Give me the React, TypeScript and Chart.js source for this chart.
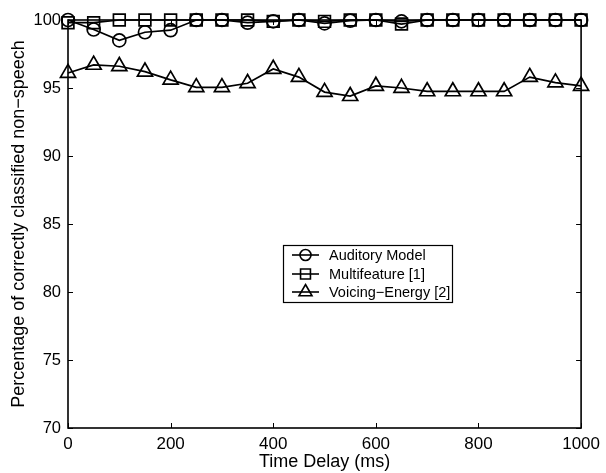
import React, { useEffect, useRef } from "react";
import { Chart, registerables } from "chart.js";

Chart.register(...registerables);

const delays = [0, 50, 100, 150, 200, 250, 300, 350, 400, 450, 500, 550, 600, 650, 700, 750, 800, 850, 900, 950, 1000];
const auditoryModel = [100, 99.3, 98.5, 99.1, 99.25, 100, 100, 99.8, 99.9, 100, 99.75, 99.95, 100, 99.9, 100, 100, 100, 100, 100, 100, 100];
const multifeature = [99.8, 99.8, 100, 100, 100, 100, 100, 100, 99.9, 100, 99.9, 100, 100, 99.7, 100, 100, 100, 100, 100, 100, 100];
const voicingEnergy = [96.1, 96.7, 96.6, 96.2, 95.6, 95.05, 95.05, 95.35, 96.4, 95.8, 94.7, 94.4, 95.15, 95.0, 94.75, 94.75, 94.75, 94.75, 95.8, 95.4, 95.15];

const seriesNames = ["Auditory Model", "Multifeature [1]", "Voicing\u2212Energy [2]"];
const xTicks = [0, 200, 400, 600, 800, 1000];
const yTicks = [70, 75, 80, 85, 90, 95, 100];

const FONT = "'Liberation Sans', Arial, Helvetica, sans-serif";

function drawMarker(ctx: CanvasRenderingContext2D, style: string, x: number, y: number, r: number) {
  ctx.beginPath();
  if (style === "circle") {
    ctx.arc(x, y, r, 0, Math.PI * 2);
  } else if (style === "rect") {
    const s = r / Math.SQRT2;
    ctx.rect(x - s, y - s, 2 * s, 2 * s);
  } else {
    let rad = 0;
    ctx.moveTo(x + Math.sin(rad) * r, y - Math.cos(rad) * r);
    rad += (2 * Math.PI) / 3;
    ctx.lineTo(x + Math.sin(rad) * r, y - Math.cos(rad) * r);
    rad += (2 * Math.PI) / 3;
    ctx.lineTo(x + Math.sin(rad) * r, y - Math.cos(rad) * r);
    ctx.closePath();
  }
  ctx.stroke();
}

const framePlugin = {
  id: "framePlugin",
  afterDatasetsDraw(chart: any) {
    const { ctx, chartArea, scales } = chart;
    const { left, right, top, bottom } = chartArea;
    ctx.save();
    ctx.strokeStyle = "#000";
    ctx.lineWidth = 1;
    const tl = 5;
    ctx.beginPath();
    for (const v of yTicks) {
      const y = Math.round(scales.y.getPixelForValue(v)) + 0.5;
      ctx.moveTo(left, y);
      ctx.lineTo(left + tl, y);
      ctx.moveTo(right, y);
      ctx.lineTo(right - tl, y);
    }
    for (const v of xTicks) {
      const x = Math.round(scales.x.getPixelForValue(v)) + 0.5;
      ctx.moveTo(x, bottom);
      ctx.lineTo(x, bottom - tl);
      ctx.moveTo(x, top);
      ctx.lineTo(x, top + tl);
    }
    ctx.stroke();
    ctx.lineWidth = 1.6;
    ctx.strokeRect(left, top, right - left, bottom - top);
    ctx.restore();
  },
  afterDraw(chart: any) {
    const { ctx } = chart;
    ctx.save();
    const bx = 283.5, by = 245.5, bw = 169, bh = 57;
    ctx.fillStyle = "#fff";
    ctx.fillRect(bx, by, bw, bh);
    ctx.strokeStyle = "#000";
    ctx.lineWidth = 1.2;
    ctx.strokeRect(bx, by, bw, bh);
    const rows = [255, 274, 292];
    const styles = ["circle", "rect", "triangle"];
    const radii = [5.5, 7, 7.5];
    ctx.font = `14.5px ${FONT}`;
    ctx.textBaseline = "middle";
    ctx.textAlign = "left";
    ctx.fillStyle = "#000";
    rows.forEach((ry, i) => {
      ctx.lineWidth = 1.6;
      ctx.beginPath();
      ctx.moveTo(292, ry);
      ctx.lineTo(319, ry);
      ctx.stroke();
      drawMarker(ctx, styles[i], 305.5, ry, radii[i]);
      ctx.fillText(seriesNames[i], 329, ry + 0.5);
    });
    ctx.restore();
  },
};

export default function App() {
  const canvasRef = useRef<HTMLCanvasElement | null>(null);

  useEffect(() => {
    document.body.style.margin = "0";
    const canvas = canvasRef.current;
    if (!canvas) return;
    const mk = (arr: number[]) => delays.map((d, i) => ({ x: d, y: arr[i] }));
    const common = {
      borderColor: "#000",
      backgroundColor: "rgba(0,0,0,0)",
      pointBackgroundColor: "rgba(0,0,0,0)",
      pointBorderColor: "#000",
      borderWidth: 1.7,
      pointBorderWidth: 1.7,
      tension: 0,
      clip: false as any,
      fill: false,
    };
    const chart = new Chart(canvas, {
      type: "line",
      data: {
        datasets: [
          { ...common, label: seriesNames[0], data: mk(auditoryModel), pointStyle: "circle", pointRadius: 6.5 },
          { ...common, label: seriesNames[1], data: mk(multifeature), pointStyle: "rect", pointRadius: 8.3 },
          { ...common, label: seriesNames[2], data: mk(voicingEnergy), pointStyle: "triangle", pointRadius: 8.7 },
        ],
      },
      options: {
        animation: false,
        responsive: false,
        maintainAspectRatio: false,
        devicePixelRatio: 1,
        layout: { padding: { top: 20, right: 22, left: 0, bottom: 0 } },
        plugins: { legend: { display: false }, tooltip: { enabled: false } },
        events: [],
        scales: {
          x: {
            type: "linear",
            min: 0,
            max: 1000,
            afterBuildTicks: (scale: any) => {
              scale.ticks = xTicks.map((v) => ({ value: v }));
            },
            afterFit: (scale: any) => {
              scale.height = 45;
            },
            ticks: {
              color: "#000",
              font: { family: FONT, size: 17 },
              padding: 6,
              maxRotation: 0,
              autoSkip: false,
              callback: (v: any) => String(v),
            },
            grid: { display: false, drawTicks: false },
            border: { display: false },
            title: {
              display: true,
              text: "Time Delay (ms)",
              color: "#000",
              font: { family: FONT, size: 18 },
              padding: { top: 0, bottom: 0 },
            },
          },
          y: {
            type: "linear",
            min: 70,
            max: 100,
            afterBuildTicks: (scale: any) => {
              scale.ticks = yTicks.map((v) => ({ value: v }));
            },
            afterFit: (scale: any) => {
              scale.width = 68;
            },
            ticks: {
              color: "#000",
              font: { family: FONT, size: 16.5 },
              padding: 7,
              autoSkip: false,
              callback: (v: any) => String(v),
            },
            grid: { display: false, drawTicks: false },
            border: { display: false },
            title: {
              display: true,
              text: "Percentage of correctly classified non\u2212speech",
              color: "#000",
              font: { family: FONT, size: 18 },
              padding: { top: 8, bottom: 0 },
            },
          },
        },
      } as any,
      plugins: [framePlugin],
    });
    return () => chart.destroy();
  }, []);

  return (
    <div style={{ position: "absolute", left: 0, top: 0, width: 606, height: 473, background: "#fff" }}>
      <canvas ref={canvasRef} width={606} height={473} style={{ display: "block", width: 606, height: 473 }} />
    </div>
  );
}
